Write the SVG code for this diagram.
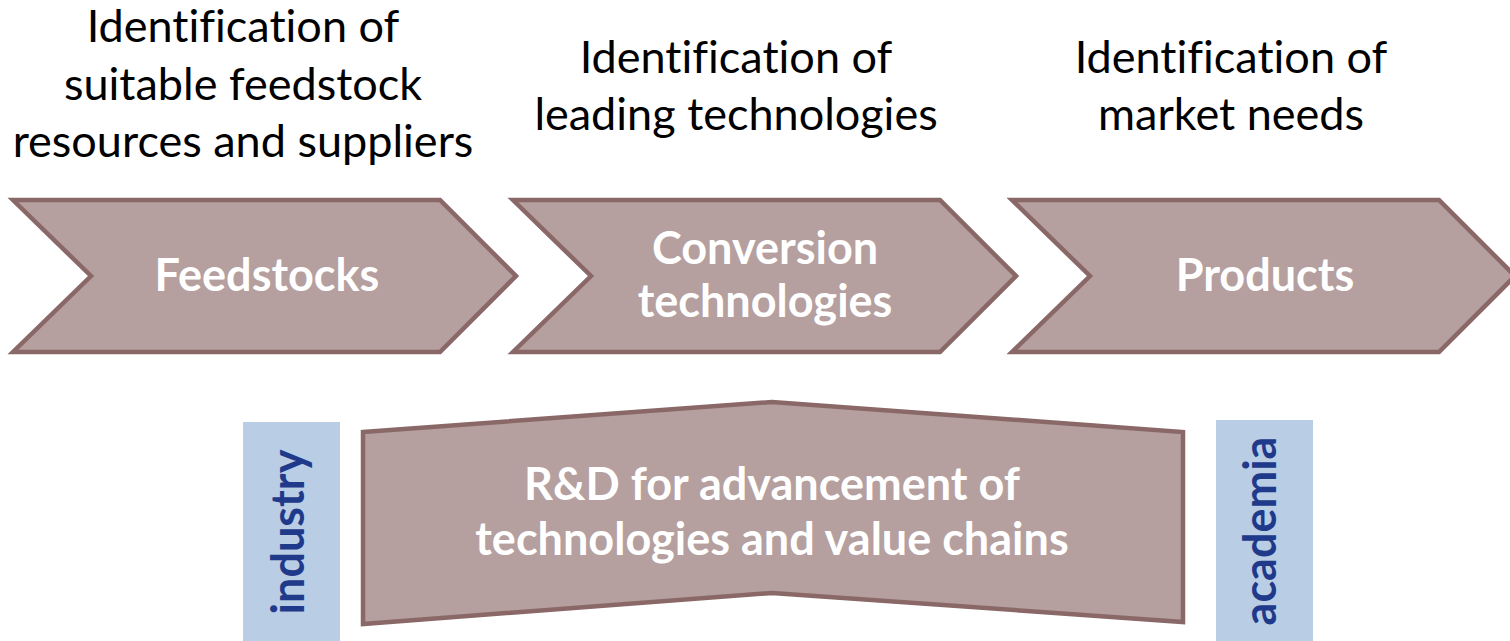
<svg xmlns="http://www.w3.org/2000/svg" width="1510" height="641" viewBox="0 0 1510 641">
  <style>
    text { font-variant-ligatures: none; font-feature-settings: "liga" 0; }
    .chev { fill: #b59f9f; stroke: #8a6868; stroke-width: 4.5; stroke-linejoin: miter; }
    .head { font-family: Lato, "Liberation Sans", sans-serif; font-size: 45px; fill: #000; text-anchor: middle; }
    .lbl { font-family: Lato, "Liberation Sans", sans-serif; font-weight: bold; font-size: 45px; fill: #fff; text-anchor: middle; }
    .side { fill: #b9cde5; }
    .sidetxt { font-family: Lato, "Liberation Sans", sans-serif; font-weight: bold; font-size: 45px; fill: #1f3a8a; text-anchor: middle; }
  </style>
  <rect width="1510" height="641" fill="#ffffff"/>

  <!-- headings above the value chain -->
  <g id="heading-feedstocks">
    <text class="head" x="243" y="42">Identification of</text>
    <text class="head" x="243" y="100">suitable feedstock</text>
    <text class="head" x="243" y="157">resources and suppliers</text>
  </g>
  <g id="heading-technologies">
    <text class="head" x="736" y="73">Identification of</text>
    <text class="head" x="736" y="130">leading technologies</text>
  </g>
  <g id="heading-market">
    <text class="head" x="1231" y="73">Identification of</text>
    <text class="head" x="1231" y="130">market needs</text>
  </g>

  <!-- value chain chevrons -->
  <g id="feedstocks">
    <polygon class="chev" points="13,200 440,200 516,276 440,352 13,352 91,276"/>
    <text class="lbl" x="267" y="291">Feedstocks</text>
  </g>
  <g id="conversion">
    <polygon class="chev" points="513,200 940,200 1016,276 940,352 513,352 591,276"/>
    <text class="lbl" x="765" y="264">Conversion</text>
    <text class="lbl" x="765" y="317">technologies</text>
  </g>
  <g id="products">
    <polygon class="chev" points="1012,200 1439,200 1515,276 1439,352 1012,352 1090,276"/>
    <text class="lbl" x="1265" y="291">Products</text>
  </g>

  <!-- side partners -->
  <g id="industry">
    <rect class="side" x="243" y="422" width="97" height="225"/>
    <text class="sidetxt" transform="translate(304,532) rotate(-90)">industry</text>
  </g>
  <g id="academia">
    <rect class="side" x="1216" y="420" width="97" height="225"/>
    <text class="sidetxt" transform="translate(1276,531) rotate(-90)">academia</text>
  </g>

  <!-- R&D base -->
  <g id="rnd">
    <polygon class="chev" points="363,432 772,402 1183,432 1183,622 772,593 363,624"/>
    <text class="lbl" x="772" y="500">R&amp;D for advancement of</text>
    <text class="lbl" x="772" y="555">technologies and value chains</text>
  </g>

  <g id="connectors"/>
</svg>
